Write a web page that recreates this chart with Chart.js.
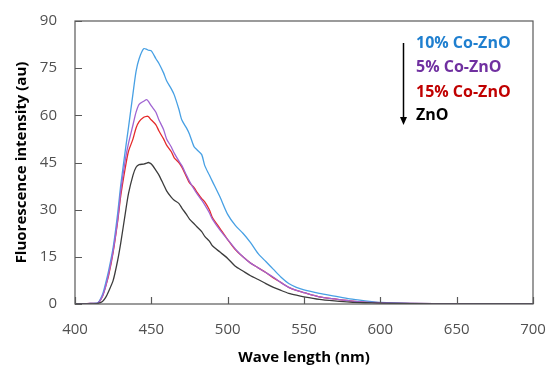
<!DOCTYPE html>
<html>
<head>
<meta charset="utf-8">
<script src="https://cdn.jsdelivr.net/npm/chart.js@4.4.1/dist/chart.umd.min.js"></script>
<style>
html,body{margin:0;padding:0;background:#fff;}
#wrap{width:548px;height:367px;}
</style>
</head>
<body>
<div id="wrap"><canvas id="c" width="548" height="367"></canvas></div>
<script>
const wavelengths = [400,405,410,415,418,420,422,425,428,430,433,435,438,440,442,445,447,448,450,453,455,458,460,463,465,468,470,473,475,478,480,483,485,488,490,495,500,505,510,515,520,525,530,535,540,545,550,560,570,580,590,600,620,650,700];
const co10 = [0,0,0.2,0.4,3,6.5,10.5,18,29,38,49,56,67,74,78,81.2,81,80.7,80.5,78,76.5,73.5,71,68.5,66.5,62,58.5,56,54,50,49,47.5,44,41,39,34,28.5,25,22.5,19.5,16,13.5,11,8.5,6.5,5.3,4.5,3.4,2.5,1.6,1,0.5,0.2,0.1,0];
const co5  = [0,0,0.2,0.3,2.5,5.5,9.5,17,27,36,46,51,57,61,63.5,64.5,65,64.5,63,61,58.5,55.5,52.5,50,48,45.5,44,41,39,36.5,35,33,31.5,29,27,23.5,20.5,17.5,15,13,11.5,10,8.5,6.8,5.3,4.3,3.6,2.3,1.6,1,0.6,0.4,0.2,0.1,0];
const co15 = [0,0,0.2,0.3,2.5,5.5,9,16.5,26.5,34.5,43.5,48.5,52.5,56,58,59.4,59.7,59.6,58.5,57,55,52.5,50.5,48.5,46.5,45,43.5,40.5,38.5,37,35.5,33.5,32.5,30,27.5,24,20.5,17.3,15,13,11.5,10,8.3,6.8,5.3,4.3,3.6,2.3,1.6,1,0.6,0.4,0.2,0.1,0];
const zno  = [0,0,0,0.2,0.8,2,4,7.5,14,19.5,29,35,41,43.5,44.3,44.5,44.8,45,44.5,42.5,41,38,36,34,33,32,30.5,28.5,27,25.5,24.5,23,21.5,20,18.5,16.5,14.5,12,10.5,9,7.8,6.5,5.3,4.3,3.4,2.8,2.3,1.5,1,0.6,0.4,0.3,0.1,0,0];
const xTicks = [400,450,500,550,600,650,700];
const yTicks = [0,15,30,45,60,75,90];
const legendOrder = ['10% Co-ZnO','5% Co-ZnO','15% Co-ZnO','ZnO'];
const lineColors = {'ZnO':'#3c3c3c','5% Co-ZnO':'#a064d2','10% Co-ZnO':'#47a0e4','15% Co-ZnO':'#e52a2a'};
const textColors = {'ZnO':'#000000','5% Co-ZnO':'#7030a0','10% Co-ZnO':'#1f7fcf','15% Co-ZnO':'#c00000'};
const seriesValues = {'ZnO':zno,'5% Co-ZnO':co5,'10% Co-ZnO':co10,'15% Co-ZnO':co15};

const toPts = arr => wavelengths.map((w,i)=>({x:w,y:arr[i]}));

const framePlugin = {
  id:'frame',
  afterDatasetsDraw(chart){
    const {ctx, chartArea:a, scales} = chart;
    ctx.save();
    ctx.strokeStyle = '#595959';
    ctx.lineWidth = 1.2;
    ctx.strokeRect(a.left, a.top, a.right-a.left, a.bottom-a.top);
    ctx.beginPath();
    yTicks.forEach(v=>{const y=Math.round(scales.y.getPixelForValue(v))+0.5; ctx.moveTo(a.left,y); ctx.lineTo(a.left+7,y);});
    xTicks.forEach(v=>{const x=Math.round(scales.x.getPixelForValue(v))+0.5; ctx.moveTo(x,a.bottom); ctx.lineTo(x,a.bottom-7);});
    ctx.stroke();
    // legend annotation
    const ax = a.left + 328.5;
    ctx.strokeStyle = '#000';
    ctx.lineWidth = 1.5;
    ctx.beginPath();
    ctx.moveTo(ax, a.top+22); ctx.lineTo(ax, a.top+98); ctx.stroke();
    ctx.fillStyle='#000';
    ctx.beginPath();
    ctx.moveTo(ax-3.5, a.top+96); ctx.lineTo(ax+3.5, a.top+96); ctx.lineTo(ax, a.top+104); ctx.closePath(); ctx.fill();
    ctx.font = 'bold 16px "Open Sans"';
    ctx.textBaseline = 'middle';
    ctx.textAlign = 'left';
    const ys = [22.5, 46, 71, 94.5];
    legendOrder.forEach((n,i)=>{ctx.fillStyle=textColors[n]; ctx.fillText(n, a.left+341, a.top+ys[i]);});
    ctx.restore();
  }
};

const drawOrder = ['ZnO','5% Co-ZnO','10% Co-ZnO','15% Co-ZnO'];
new Chart(document.getElementById('c'), {
  type:'line',
  data:{
    datasets: drawOrder.map(n=>({
      label:n,
      data:toPts(seriesValues[n]),
      borderColor:lineColors[n],
      backgroundColor:lineColors[n],
      borderWidth:1.3,
      pointRadius:0,
      tension:0.25,
      fill:false
    }))
  },
  options:{
    responsive:false,
    animation:false,
    devicePixelRatio:1,
    layout:{padding:{top:21,right:15,left:0,bottom:0}},
    plugins:{legend:{display:false},tooltip:{enabled:false}},
    scales:{
      x:{
        type:'linear', min:400, max:700,
        afterBuildTicks(s){ s.ticks = xTicks.map(v=>({value:v})); },
        afterFit(s){ s.height = 63; s.paddingLeft=0; s.paddingRight=0; s.paddingTop=0; s.paddingBottom=0; },
        grid:{display:false, drawTicks:false},
        border:{display:false},
        ticks:{padding:17, color:'#505050', font:{family:'Open Sans', size:15}},
        title:{display:true, text:'Wave length (nm)', color:'#000', font:{family:'Open Sans', size:15, weight:'bold'}, padding:{top:0,bottom:0}}
      },
      y:{
        min:0, max:90,
        afterBuildTicks(s){ s.ticks = yTicks.map(v=>({value:v})); },
        afterFit(s){ s.width = 75; s.paddingLeft=0; s.paddingRight=0; s.paddingTop=0; s.paddingBottom=0; },
        grid:{display:false, drawTicks:false},
        border:{display:false},
        ticks:{padding:18, color:'#505050', font:{family:'Open Sans', size:15}},
        title:{display:true, text:'Fluorescence intensity (au)', color:'#000', font:{family:'Open Sans', size:15, weight:'bold'}, padding:{top:13,bottom:0}}
      }
    }
  },
  plugins:[framePlugin]
});
</script>
</body>
</html>
